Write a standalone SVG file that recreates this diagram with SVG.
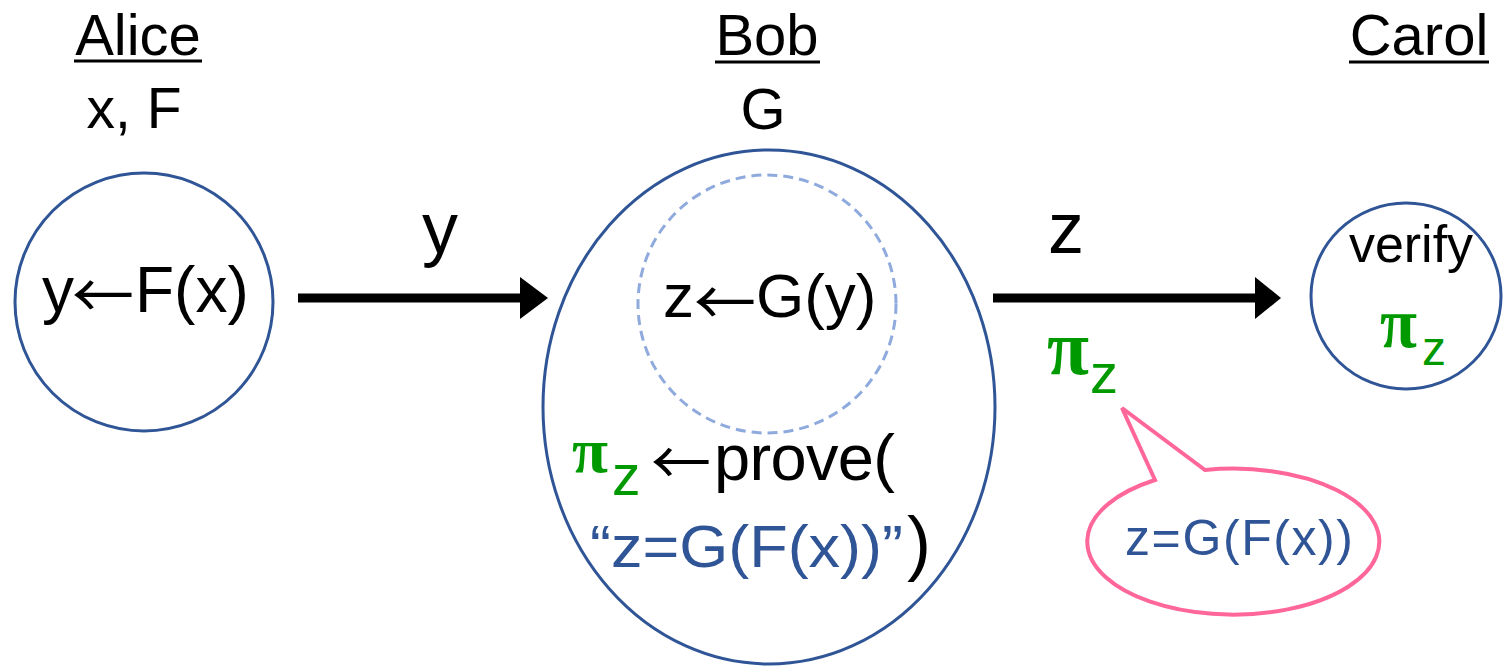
<svg xmlns="http://www.w3.org/2000/svg" width="1505" height="666" viewBox="0 0 1505 666">
<style>
text{font-family:"Liberation Sans",Arial,sans-serif;fill:#000}
.ar{font-family:"Noto Sans CJK JP","Noto Sans CJK SC",sans-serif}
.pi{font-family:"Liberation Serif","Times New Roman",serif;font-weight:bold;fill:#009900}
.g{fill:#009900}
.b{fill:#2F5597}
.node{fill:#fff;stroke:#2F5597;stroke-width:3}
.ul{stroke:#000;stroke-width:3}
</style>
<rect width="1505" height="666" fill="#fff"/>
<g id="alice">
<text x="138" y="55" font-size="58" text-anchor="middle">Alice</text>
<line class="ul" x1="74" y1="61" x2="202" y2="61"/>
<text x="134" y="128" font-size="57" text-anchor="middle">x, F</text>
<circle class="node" cx="144" cy="302" r="129"/>
<text x="42" y="312" font-size="64">y</text>
<text class="ar" x="72" y="319" font-size="62">←</text>
<text x="135" y="312" font-size="64">F(x)</text>
</g>
<g id="bob">
<text x="767" y="55" font-size="58" text-anchor="middle">Bob</text>
<line class="ul" x1="715" y1="62" x2="820" y2="62"/>
<text x="763" y="129" font-size="58" text-anchor="middle">G</text>
<ellipse class="node" cx="769" cy="407" rx="226" ry="257"/>
<circle cx="767" cy="304" r="129" fill="none" stroke="#8FAADC" stroke-width="3" stroke-dasharray="10 6"/>
<text x="663" y="317" font-size="62">z</text>
<text class="ar" x="694" y="326" font-size="62">←</text>
<text x="756" y="317" font-size="62">G(y)</text>
<text class="pi" x="572" y="472" font-size="64" textLength="36" lengthAdjust="spacingAndGlyphs">π</text>
<text class="g" x="612" y="495" font-size="57">z</text>
<text class="ar" x="651" y="485" font-size="60">←</text>
<text x="714" y="480" font-size="65" textLength="181">prove(</text>
<text class="b" x="590" y="567" font-size="60" textLength="313" lengthAdjust="spacingAndGlyphs">“z=G(F(x))”</text>
<text x="907" y="567" font-size="72">)</text>
</g>
<g id="carol">
<text x="1419" y="55" font-size="58" text-anchor="middle">Carol</text>
<line class="ul" x1="1349" y1="62" x2="1489" y2="62"/>
<ellipse class="node" cx="1406" cy="296" rx="95" ry="93"/>
<text x="1411" y="262" font-size="52" text-anchor="middle">verify</text>
<text class="pi" x="1380" y="347" font-size="72" textLength="37" lengthAdjust="spacingAndGlyphs">π</text>
<text class="g" x="1422" y="365" font-size="48">z</text>
</g>
<g id="connectors">
<line x1="298" y1="298" x2="522" y2="298" stroke="#000" stroke-width="9"/>
<polygon points="520,277 548,298 520,319" fill="#000"/>
<text x="440" y="253" font-size="72" text-anchor="middle">y</text>
<line x1="993" y1="298" x2="1257" y2="298" stroke="#000" stroke-width="9"/>
<polygon points="1255,277 1281,298 1255,319" fill="#000"/>
<text x="1066" y="253" font-size="72" text-anchor="middle">z</text>
<text class="pi" x="1047" y="374" font-size="78" textLength="42" lengthAdjust="spacingAndGlyphs">π</text>
<text class="g" x="1090" y="393" font-size="56">z</text>
</g>
<g id="callout">
<path d="M1155,480 L1122,408 L1205,470 A146,73 0 1,1 1155,480 Z" fill="#fff" stroke="#FF6699" stroke-width="4" stroke-linejoin="miter"/>
<text class="b" x="1125" y="555" font-size="50" textLength="228">z=G(F(x))</text>
</g>
</svg>
